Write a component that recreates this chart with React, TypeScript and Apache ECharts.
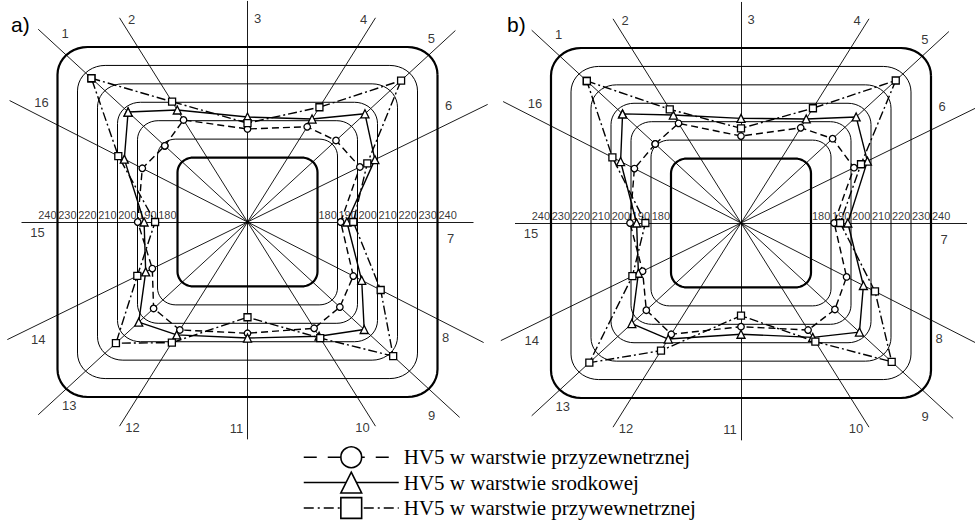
import React, { useEffect, useRef } from "react";
import * as echarts from "echarts";

// ---------- data ----------
const levels = [180, 190, 200, 210, 220, 230, 240];
const directions = ["1", "2", "3", "4", "5", "6", "7", "8", "9", "10", "11", "12", "13", "14", "15", "16"];
// direction of each measuring line (degrees, 0 = right, counter-clockwise)
const dirAngles = [135, 120, 90, 60, 45, 28, 0, -29, -45, -60, -90, -120, -135, -152, 180, 151];
// how far each drawn line reaches (in contour units)
const rayLengths = [148, 128, 120, 128, 147, 136, 113, 135, 150, 128, 118, 128, 148, 136, 113, 136];

const seriesNames = [
  "HV5 w warstwie przyzewnetrznej",
  "HV5 w warstwie srodkowej",
  "HV5 w warstwie przywewnetrznej",
];

// panel a)
const aOuterLayer = [189, 200.4, 195.5, 196.7, 192, 201.2, 191.6, 197.9, 194, 202.7, 205.4, 203.6, 194.8, 192.6, 199.9, 197.6];
const aMiddleLayer = [208, 205.8, 202, 200.9, 207, 208.7, 194.7, 202.1, 206.6, 207, 208, 206.3, 202.5, 195.9, 196.7, 206.6];
const aInnerLayer = [227, 210.3, 198.7, 207.3, 225.7, 204.9, 197.9, 211.6, 221.6, 208, 196.7, 210.5, 214.3, 200.1, 191.2, 209.6];

// panel b)
const bOuterLayer = [190.6, 199.1, 192.2, 196.7, 193.6, 201.5, 191.6, 197.8, 194.8, 203.1, 201.3, 205.4, 195.2, 194.2, 200.5, 198.3];
const bMiddleLayer = [207.5, 203.6, 201.8, 201.5, 205.8, 208.2, 198.4, 206.2, 207.5, 207.1, 205.4, 208, 202.7, 196.3, 197.2, 205.2];
const bInnerLayer = [226, 206.7, 196.4, 207.3, 226.3, 205, 194.6, 212, 224.2, 209.4, 195.3, 214.3, 224.7, 199.3, 192.8, 209.3];

const panels = [
  { title: "a)", values: [aOuterLayer, aMiddleLayer, aInnerLayer] },
  { title: "b)", values: [bOuterLayer, bMiddleLayer, bInnerLayer] },
];

// ---------- layout / style ----------
const rayLabelOffsets: [number, number][] = [
  [27, 4], [12, 2], [10, 18], [-12, 2], [-24, 8], [-39, 1], [-23, 16], [-38, -5],
  [-28, -2], [-13, 1], [-11, -11], [13, 1], [31, -9], [31, 0], [16, 10], [32, 2],
];
const gridBoxes = [
  { left: 47.5, top: 37.8, width: 400, height: 368.4 },
  { left: 541, top: 38.8, width: 400, height: 368.4 },
];
const narrowFont = "'Liberation Sans Narrow', 'Arial Narrow', 'Liberation Sans', Arial, sans-serif";
const serifFont = "'Liberation Serif', 'Times New Roman', serif";
const symbols = ["circle", "triangle", "rect"];
const symbolSizes = [6.5, 8, 7];
const dashes: any[] = [[7, 4], "solid", [9, 3, 2, 3]];
const legendDashes: any[] = [[13, 11], "solid", [10, 4, 2, 4]];

// ---------- geometry of the rounded-square contours ----------
const halfSide = (v: number) => v - 145;
const cornerR = (v: number) => 8 + ((v - 180) * 7) / 60;

function pointOnContour(angleDeg: number, v: number): [number, number] {
  const a = (angleDeg * Math.PI) / 180;
  const c = Math.cos(a);
  const s = Math.sin(a);
  const ux = Math.abs(c);
  const uy = Math.abs(s);
  const h = halfSide(v);
  const r = cornerR(v);
  let t = h / Math.max(ux, uy);
  let px = t * ux;
  let py = t * uy;
  if (px > h - r && py > h - r) {
    const C = h - r;
    const b = ux * C + uy * C;
    t = b + Math.sqrt(b * b - 2 * C * C + r * r);
    px = t * ux;
    py = t * uy;
  }
  return [(c < 0 ? -1 : 1) * px, (s < 0 ? -1 : 1) * py];
}

function contourPath(v: number): [number, number][] {
  const h = halfSide(v);
  const r = cornerR(v);
  const C = h - r;
  const centers = [
    [C, C],
    [-C, C],
    [-C, -C],
    [C, -C],
  ];
  const pts: [number, number][] = [];
  const N = 10;
  centers.forEach((cc, k) => {
    for (let j = 0; j <= N; j++) {
      const ang = ((90 * k + (90 * j) / N) * Math.PI) / 180;
      pts.push([cc[0] + r * Math.cos(ang), cc[1] + r * Math.sin(ang)]);
    }
  });
  pts.push(pts[0]);
  return pts;
}

function buildOption() {
  const series: any[] = [];
  const xAxis: any[] = [];
  const yAxis: any[] = [];
  const grid: any[] = [];

  panels.forEach((panel, p) => {
    grid.push({ ...gridBoxes[p], containLabel: false });
    xAxis.push({ type: "value", gridIndex: p, min: -100, max: 100, show: false });
    yAxis.push({ type: "value", gridIndex: p, min: -100, max: 100, show: false });

    // contours
    levels.forEach((v, i) => {
      const bold = i === 0 || i === levels.length - 1;
      series.push({
        type: "line",
        name: `contour-${p}-${v}`,
        xAxisIndex: p,
        yAxisIndex: p,
        data: contourPath(v),
        symbol: "none",
        silent: true,
        clip: false,
        z: 1,
        lineStyle: { color: "#000", width: bold ? 2.2 : 1 },
      });
    });

    // measuring lines
    series.push({
      type: "lines",
      coordinateSystem: "cartesian2d",
      xAxisIndex: p,
      yAxisIndex: p,
      silent: true,
      clip: false,
      z: 2,
      lineStyle: { color: "#000", width: 0.9, opacity: 1 },
      data: dirAngles.map((ang, i) => {
        const a = (ang * Math.PI) / 180;
        return {
          coords: [
            [0, 0],
            [rayLengths[i] * Math.cos(a), rayLengths[i] * Math.sin(a)],
          ],
        };
      }),
    });

    // numbers of the measuring lines
    series.push({
      type: "scatter",
      xAxisIndex: p,
      yAxisIndex: p,
      symbolSize: 0,
      silent: true,
      clip: false,
      z: 3,
      data: dirAngles.map((ang, i) => {
        const a = (ang * Math.PI) / 180;
        return {
          name: directions[i],
          value: [rayLengths[i] * Math.cos(a), rayLengths[i] * Math.sin(a)],
          label: { offset: rayLabelOffsets[i] },
        };
      }),
      label: {
        show: true,
        position: "inside",
        formatter: "{b}",
        color: "#000",
        fontSize: 13,
        fontFamily: narrowFont,
      },
    });

    // level labels along the horizontal line
    series.push({
      type: "scatter",
      xAxisIndex: p,
      yAxisIndex: p,
      symbolSize: 0,
      silent: true,
      clip: false,
      z: 3,
      data: [
        ...levels.map((v) => ({
          name: String(v),
          value: [-halfSide(v), 0],
          label: { position: "left" },
        })),
        ...levels.map((v) => ({
          name: String(v),
          value: [halfSide(v), 0],
          label: { position: "right" },
        })),
      ],
      label: {
        show: true,
        formatter: "{b}",
        distance: 1,
        offset: [0, -7],
        color: "#000",
        fontSize: 11,
        fontFamily: narrowFont,
      },
    });

    // measured hardness
    panel.values.forEach((vals, k) => {
      const pts = vals.map((v, i) => pointOnContour(dirAngles[i], v));
      pts.push(pts[0]);
      series.push({
        type: "line",
        name: seriesNames[k],
        xAxisIndex: p,
        yAxisIndex: p,
        data: pts,
        clip: false,
        z: 5,
        symbol: symbols[k],
        symbolSize: symbolSizes[k],
        showSymbol: true,
        showAllSymbol: true,
        itemStyle: { color: "#fff", borderColor: "#000", borderWidth: 1.3 },
        lineStyle: { color: "#000", width: 1.4, type: dashes[k] },
        emphasis: { disabled: true },
      });
    });
  });

  return {
    animation: false,
    backgroundColor: "#fff",
    title: panels.map((panel, p) => ({
      text: panel.title,
      left: p === 0 ? 6 : 502,
      top: 9,
      textStyle: { fontSize: 21, fontWeight: "normal", color: "#000", fontFamily: "'Liberation Sans', Arial, sans-serif" },
    })),
    grid,
    xAxis,
    yAxis,
    legend: {
      orient: "vertical",
      left: 298,
      top: 441,
      itemWidth: 95,
      itemHeight: 26,
      itemGap: 3,
      selectedMode: false,
      textStyle: { fontFamily: serifFont, fontSize: 21, color: "#000" },
      itemStyle: { color: "#fff", borderColor: "#000", borderWidth: 1.6 },
      lineStyle: { color: "#000", width: 1.5 },
      data: seriesNames.map((name, k) => ({
        name,
        lineStyle: { color: "#000", width: 1.5, type: legendDashes[k] },
      })),
    },
    series,
  };
}

export default function App() {
  const ref = useRef<HTMLDivElement>(null);
  useEffect(() => {
    if (!ref.current) return;
    const chart = echarts.init(ref.current, undefined, { renderer: "svg" });
    chart.setOption(buildOption() as any);
    return () => chart.dispose();
  }, []);
  return (
    <div
      ref={ref}
      style={{ position: "fixed", left: 0, top: 0, width: 975, height: 526, background: "#fff" }}
    />
  );
}
